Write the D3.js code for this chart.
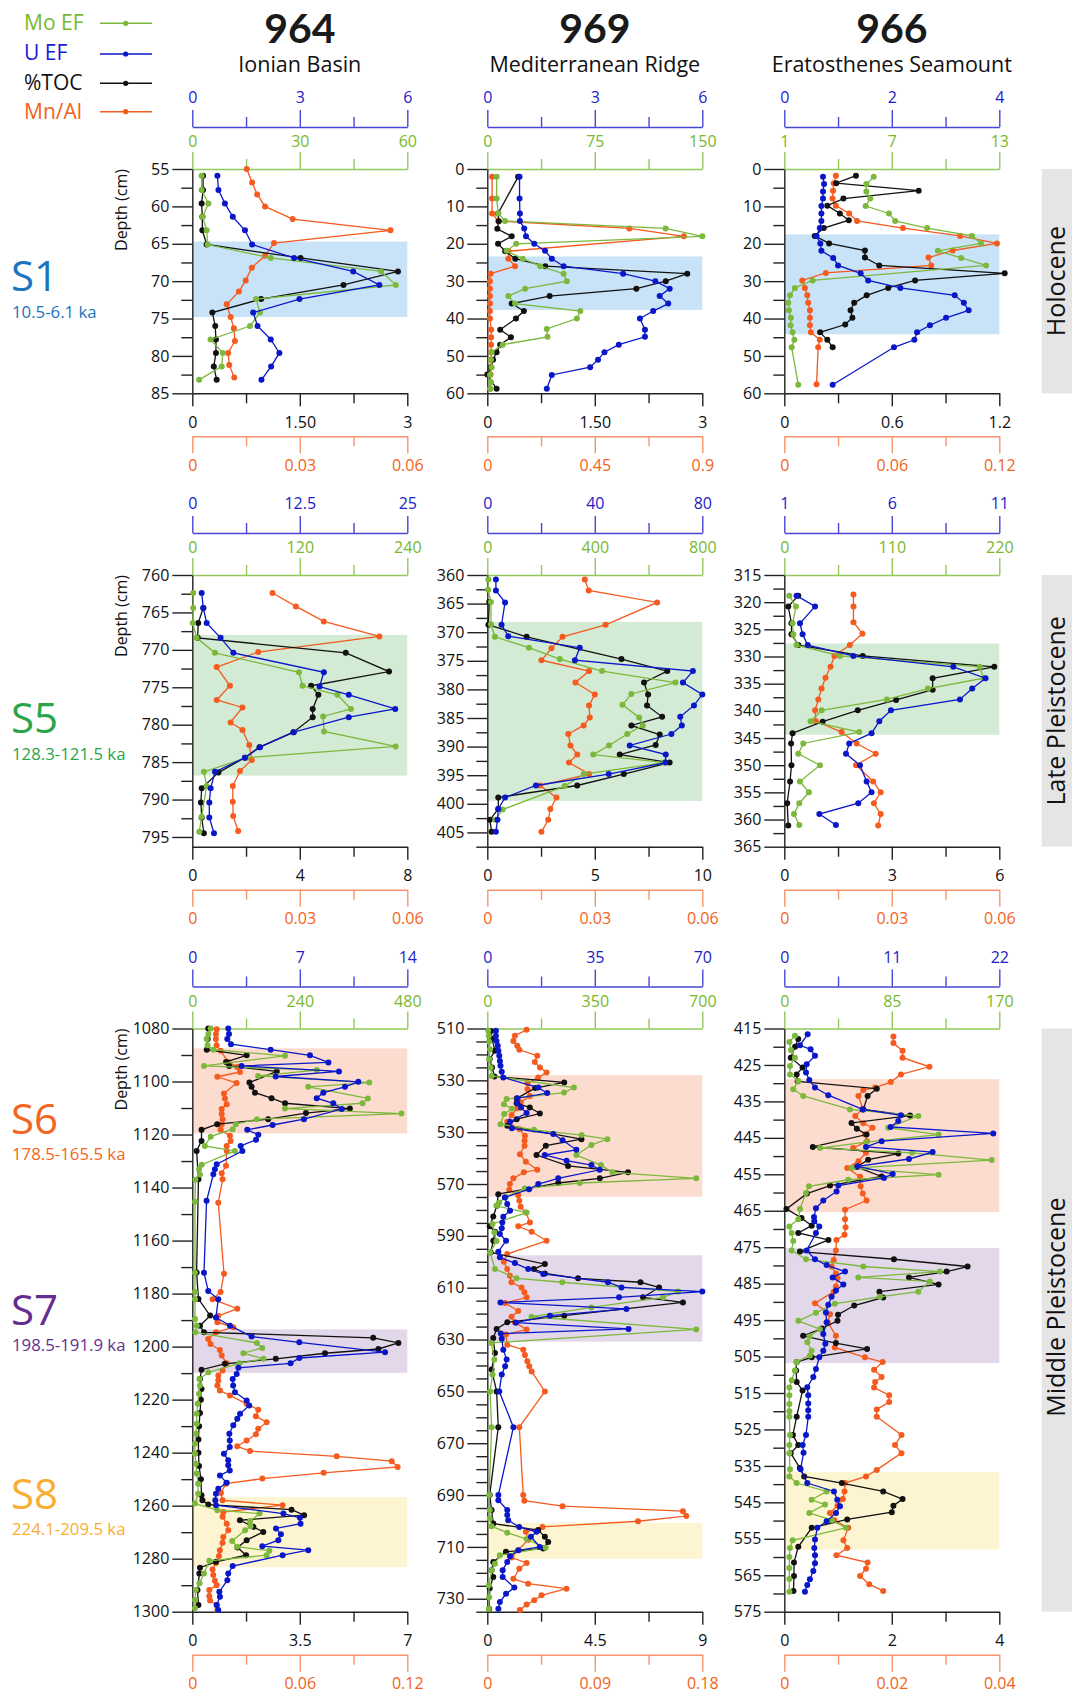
<!DOCTYPE html>
<html>
<head>
<meta charset="utf-8">
<script src="https://cdn.jsdelivr.net/npm/d3@7"></script>
<style>
body { margin: 0; background: #fff; }
svg { display: block; font-family: "Open Sans", sans-serif; }
</style>
</head>
<body>
<div id="chart"></div>
<script>
const sites = ["964", "969", "966"];
const siteNames = ["Ionian Basin", "Mediterranean Ridge", "Eratosthenes Seamount"];
const periods = ["Holocene", "Late Pleistocene", "Middle Pleistocene"];
const legendNames = ["Mo EF", "U EF", "%TOC", "Mn/Al"];

// events: name, age label
const eventNames = ["S1", "S5", "S6", "S7", "S8"];
const eventAges = ["10.5-6.1 ka", "128.3-121.5 ka", "178.5-165.5 ka", "198.5-191.9 ka", "224.1-209.5 ka"];

// panel order: 964, 969, 966 per row (Holocene, Late Pleist., Middle Pleist.)
const depthDomains = [[55, 85], [0, 60], [0, 60], [760, 796.3], [360, 407.5], [315, 365], [1080, 1300], [510, 735], [415, 575]];
const depthTicks = [
  [55, 60, 65, 70, 75, 80, 85],
  [0, 10, 20, 30, 40, 50, 60],
  [0, 10, 20, 30, 40, 50, 60],
  [760, 765, 770, 775, 780, 785, 790, 795],
  [360, 365, 370, 375, 380, 385, 390, 395, 400, 405],
  [315, 320, 325, 330, 335, 340, 345, 350, 355, 360, 365],
  [1080, 1100, 1120, 1140, 1160, 1180, 1200, 1220, 1240, 1260, 1280, 1300],
  [510, 530, 550, 570, 590, 610, 630, 650, 670, 690, 710, 730],
  [415, 425, 435, 445, 455, 465, 475, 485, 495, 505, 515, 525, 535, 545, 555, 565, 575]
];
const depthLabels969MP = ["510", "530", "530", "570", "590", "610", "630", "650", "670", "690", "710", "730"];
const depthMinorStep = [2.5, 5, 5, 2.5, 2.5, 2.5, 10, 5, 5];

const uDomains = [[0, 6], [0, 6], [0, 4], [0, 25], [0, 80], [1, 11], [0, 14], [0, 70], [0, 22]];
const moDomains = [[0, 60], [0, 150], [1, 13], [0, 240], [0, 800], [0, 220], [0, 480], [0, 700], [0, 170]];
const tocDomains = [[0, 3], [0, 3], [0, 1.2], [0, 8], [0, 10], [0, 6], [0, 7], [0, 9], [0, 4]];
const mnDomains = [[0, 0.06], [0, 0.9], [0, 0.12], [0, 0.06], [0, 0.06], [0, 0.06], [0, 0.12], [0, 0.18], [0, 0.04]];

const uLabels = [["0", "3", "6"], ["0", "3", "6"], ["0", "2", "4"], ["0", "12.5", "25"], ["0", "40", "80"], ["1", "6", "11"], ["0", "7", "14"], ["0", "35", "70"], ["0", "11", "22"]];
const moLabels = [["0", "30", "60"], ["0", "75", "150"], ["1", "7", "13"], ["0", "120", "240"], ["0", "400", "800"], ["0", "110", "220"], ["0", "240", "480"], ["0", "350", "700"], ["0", "85", "170"]];
const tocLabels = [["0", "1.50", "3"], ["0", "1.50", "3"], ["0", "0.6", "1.2"], ["0", "4", "8"], ["0", "5", "10"], ["0", "3", "6"], ["0", "3.5", "7"], ["0", "4.5", "9"], ["0", "2", "4"]];
const mnLabels = [["0", "0.03", "0.06"], ["0", "0.45", "0.9"], ["0", "0.06", "0.12"], ["0", "0.03", "0.06"], ["0", "0.03", "0.06"], ["0", "0.03", "0.06"], ["0", "0.06", "0.12"], ["0", "0.09", "0.18"], ["0", "0.02", "0.04"]];

// sapropel intervals [top, bottom, event index]
const bands = [
  [[64.7, 74.8, 0]], [[23.4, 37.7, 0]], [[17.5, 44.2, 0]],
  [[768.0, 786.8, 1]], [[368.2, 399.5, 1]], [[327.6, 344.4, 1]],
  [[1087.5, 1119.6, 2], [1193.5, 1209.9, 3], [1256.8, 1283.2, 4]],
  [[528, 574.9, 2], [597.5, 630.8, 3], [700.7, 714.6, 4]],
  [[428.9, 465.4, 2], [475.2, 506.8, 3], [536.7, 558, 4]]
];

// ---- data: [depth (cm), value] ----
const mo964Hol = [[55.9,2.6],[57.8,2.6],[59.6,4.5],[61.4,2.9],[63.2,4.0],[65.1,4.3],[66.9,21.9],[68.7,52.7],[70.5,56.8],[72.4,17.8],[74.2,18.9],[76.0,16.1],[77.8,5.1],[79.6,8.5],[81.4,8.2],[83.2,1.9]];
const u964Hol = [[55.9,0.70],[57.8,0.73],[59.6,0.91],[61.4,1.13],[63.2,1.47],[65.1,1.67],[66.9,2.84],[68.7,4.49],[70.5,5.22],[72.4,2.99],[74.2,1.70],[76.0,1.82],[77.8,2.19],[79.6,2.43],[81.4,2.20],[83.2,1.93]];
const toc964Hol = [[55.9,0.15],[57.8,0.15],[59.6,0.13],[61.4,0.14],[63.2,0.14],[65.1,0.2],[66.9,1.51],[68.7,2.87],[70.5,2.11],[72.4,0.96],[74.2,0.28],[76.0,0.32],[77.8,0.33],[79.6,0.33],[81.4,0.30],[83.2,0.34]];
const mn964Hol = [[55.0,0.0152],[56.8,0.0167],[58.4,0.0181],[60.0,0.0203],[61.7,0.0280],[63.2,0.0553],[64.9,0.0228],[66.6,0.0203],[68.2,0.0166],[69.9,0.0149],[71.4,0.0130],[73.1,0.0096],[74.8,0.0107],[76.3,0.0116],[78.0,0.0119],[79.6,0.0100],[81.2,0.0103],[82.9,0.0117]];

const mo969Hol = [[2.1,6.5],[7.9,6.5],[11.9,7.7],[13.9,12.4],[15.9,124.4],[18.0,150],[20.0,20.1],[21.9,13.5],[24.0,24.7],[26.0,36.9],[28.0,53.2],[30.0,55.5],[32.0,26.4],[34.0,14.7],[36.0,19.4],[38.0,64.9],[40.0,62.5],[42.8,41.5],[44.9,42],[47.0,10.7],[49.0,3.0],[51.0,2.6],[53.0,3.0],[55.1,1.9],[57.0,2.6],[58.8,2.3]];
const u969Hol = [[2.1,0.90],[7.9,0.90],[11.9,0.91],[13.9,0.91],[15.9,1.03],[18.0,1.08],[20.0,1.31],[21.9,1.61],[24.0,1.80],[26.0,2.13],[28.0,3.79],[30.0,4.69],[32.0,5.09],[34.0,4.81],[36.0,5.05],[38.0,4.63],[40.0,4.26],[43.0,4.40],[44.9,4.40],[47.0,3.67],[49.0,3.27],[51.0,3.09],[53.0,2.87],[55.1,1.80],[58.8,1.66]];
const toc969Hol = [[2.1,0.43],[11.9,0.15],[14.0,0.16],[16.0,0.14],[18.0,0.34],[20.0,0.15],[22.0,0.25],[24.0,0.39],[26.0,0.81],[28.0,2.79],[30.0,2.49],[32.0,2.08],[34.0,0.87],[36.0,0.34],[38.0,0.51],[40.0,0.40],[43.0,0.18],[45.0,0.33],[47.0,0.18],[49.0,0.13],[51.0,0.08],[53.0,0.05],[55.0,0.0],[58.8,0.13]];
const mn969Hol = [[2.1,0.02],[7.9,0.02],[11.9,0.02],[13.9,0.046],[15.9,0.595],[18.0,0.823],[22.0,0.088],[24.0,0.088],[26.0,0.116],[28.0,0.014],[30.0,0.011],[32.0,0.011],[34.0,0.011],[36.0,0.011],[38.0,0.011],[40.0,0.011],[43.0,0.016],[45.0,0.016],[47.0,0.016],[49.0,0.016],[51.0,0.014],[53.0,0.016],[55.0,0.014],[58.8,0.011]];

const mo966Hol = [[2.1,5.99],[4.0,5.58],[6.0,5.58],[7.9,5.80],[9.9,5.54],[11.9,6.84],[13.9,7.19],[15.8,8.97],[17.9,11.48],[19.9,11.98],[21.9,9.57],[23.8,10.87],[25.8,12.26],[29.8,2.58],[31.8,1.59],[33.8,1.32],[35.8,1.22],[37.8,1.26],[39.8,1.37],[41.8,1.35],[43.7,1.46],[45.7,1.56],[47.7,1.41],[57.7,1.78]];
const u966Hol = [[2.1,0.72],[4.0,0.74],[6.0,0.72],[7.9,0.72],[9.9,0.69],[11.9,0.69],[13.9,0.69],[15.8,0.66],[17.9,0.60],[19.9,0.67],[21.9,0.69],[23.8,0.91],[25.8,1.0],[27.9,1.42],[29.8,1.56],[31.8,2.16],[33.8,3.17],[35.8,3.34],[37.8,3.43],[39.8,3.01],[41.8,2.71],[43.7,2.47],[45.7,2.42],[47.7,2.04],[57.7,0.90]];
const toc966Hol = [[1.8,0.40],[3.8,0.29],[5.8,0.75],[7.9,0.33],[9.8,0.24],[11.9,0.31],[13.7,0.36],[15.8,0.22],[17.9,0.17],[19.9,0.25],[21.8,0.45],[23.7,0.45],[25.8,0.53],[27.9,1.23],[29.8,0.73],[31.8,0.58],[33.8,0.46],[35.8,0.39],[37.8,0.37],[39.8,0.38],[41.6,0.34],[43.7,0.20],[45.7,0.24],[47.7,0.27]];
const mn966Hol = [[1.8,0.0288],[3.8,0.0276],[5.8,0.0272],[7.9,0.0269],[9.8,0.0288],[11.9,0.0362],[13.9,0.0406],[15.8,0.0662],[17.9,0.0981],[19.9,0.1187],[21.8,0.0940],[23.7,0.0805],[25.8,0.0820],[27.8,0.0232],[29.8,0.0100],[31.8,0.0115],[33.8,0.0128],[35.8,0.0133],[37.8,0.0143],[39.8,0.0143],[41.8,0.0143],[43.7,0.0148],[45.7,0.0198],[47.7,0.0189],[57.6,0.0180]];

const mo964LP = [[762.4,1],[764.4,1],[766.4,0.5],[768.4,4.8],[770.4,25.3],[773.0,119],[774.8,123],[776.0,162],[777.9,177],[778.9,146],[780.9,147],[782.9,227],[784.4,60.7],[786.3,13.0],[788.2,16],[792.3,10.4],[794.3,7.8]];
const u964LP = [[762.4,1.09],[764.4,1.28],[766.4,1.67],[768.4,3.29],[770.4,4.77],[773.0,15.3],[774.9,14.8],[776.0,18.2],[777.9,23.6],[779.0,18.2],[781.0,11.8],[783.0,7.87],[784.4,6.12],[786.3,2.64],[788.5,2.13],[790.4,1.98],[792.4,1.98],[794.5,2.52]];
const toc964LP = [[764.4,0.41],[766.4,0.22],[768.4,0.2],[770.4,5.71],[772.9,7.32],[774.8,4.42],[776.0,4.69],[777.9,4.48],[779.0,4.48],[781.0,3.76],[783.0,2.5],[784.4,1.96],[786.4,0.97],[788.5,0.35],[790.4,0.32],[792.4,0.35],[794.5,0.43]];
const mn964LP = [[762.4,0.0224],[764.2,0.0289],[766.2,0.0367],[768.2,0.0522],[770.3,0.0184],[772.3,0.0068],[774.8,0.0105],[776.7,0.0068],[777.7,0.0140],[779.7,0.0107],[780.7,0.0140],[782.7,0.0159],[784.7,0.0166],[786.2,0.0133],[788.2,0.0113],[790.3,0.0113],[792.2,0.0114],[794.2,0.0128]];

const mo969LP = [[360.8,4],[362.6,3],[364.7,13.6],[368.6,13.6],[370.8,28.5],[372.7,155],[374.7,270],[376.8,427],[378.8,700],[380.8,536],[382.7,503],[384.9,565],[386.3,579],[387.8,521],[389.8,453],[391.4,394],[392.8,660],[394.8,359],[396.9,288],[401.0,57],[402.8,30]];
const u969LP = [[360.8,3.2],[362.7,3.2],[364.8,6.6],[368.7,5.3],[370.7,7.8],[372.7,34.4],[374.9,32.6],[376.8,76.5],[378.8,72.8],[380.9,80],[382.8,76.9],[384.8,71.8],[386.3,72.4],[387.8,68.5],[389.8,53.0],[391.4,66.4],[392.8,66.3],[394.8,45.2],[396.8,18.1],[398.9,6.6],[400.9,4.1],[402.8,3.8],[404.9,3.2]];
const toc969LP = [[364.7,0.09],[368.7,0.05],[370.8,1.83],[374.7,6.24],[376.8,8.37],[378.8,7.29],[380.9,7.48],[382.8,7.43],[384.8,8.13],[386.3,6.70],[387.9,8.02],[389.7,7.83],[391.4,6.16],[392.8,8.48],[394.8,6.35],[396.8,4.18],[398.9,0.51],[400.9,0.51],[402.8,0.12],[404.9,0.2]];
const mn969LP = [[360.8,0.0272],[362.7,0.0283],[364.8,0.0474],[368.7,0.0330],[370.8,0.0210],[372.8,0.0179],[374.9,0.0151],[376.8,0.0284],[378.8,0.0246],[380.9,0.0300],[382.8,0.0284],[384.9,0.0286],[386.3,0.0269],[387.8,0.0226],[389.8,0.0232],[391.4,0.0251],[392.8,0.0228],[394.8,0.0284],[396.8,0.0147],[398.9,0.0193],[400.9,0.0176],[402.8,0.0170],[404.9,0.0151]];

const mo966LP = [[318.8,5.1],[320.8,11.9],[323.9,8.5],[325.9,9.2],[327.9,12.6],[329.9,57.0],[331.9,200],[334.0,204],[335.9,147],[337.9,105],[339.9,38.2],[341.9,26.9],[343.9,76.7],[346.0,19.4],[347.9,14.3],[350.0,36.5],[353.0,16.0],[355.0,25.2],[357.0,15.3],[359.0,9.9],[361.0,15.3]];
const u966LP = [[318.8,1.57],[320.8,2.43],[323.9,1.73],[325.9,1.85],[327.9,2.09],[329.9,4.21],[331.9,8.86],[334.0,10.36],[335.9,9.74],[337.9,9.17],[339.9,5.96],[341.9,5.42],[344.1,5.06],[346.0,4.02],[347.9,3.87],[350.0,4.52],[353.0,4.83],[355.0,5.06],[357.0,4.44],[359.0,2.63],[361.0,3.40]];
const toc966LP = [[318.8,0.39],[320.8,0.11],[323.9,0.2],[325.9,0.2],[327.9,0.39],[329.9,2.19],[331.9,5.86],[334.0,4.14],[336.1,4.14],[338.0,3.12],[339.9,2.05],[342.0,1.07],[344.1,0.23],[346.0,0.19],[350.0,0.2],[353.0,0.16],[357.0,0.08],[361.1,0.11]];
const mn966LP = [[318.6,0.0193],[320.8,0.0193],[323.7,0.0193],[325.8,0.0218],[327.9,0.0183],[329.9,0.0140],[331.9,0.0129],[333.9,0.0115],[335.9,0.0104],[337.9,0.0095],[339.9,0.0086],[341.9,0.0088],[343.9,0.0160],[346.0,0.0202],[347.9,0.0255],[350.0,0.0200],[353.0,0.0248],[355.0,0.0269],[357.0,0.0250],[359.0,0.0269],[361.1,0.0262]];

const mo964MP = [[1080,41],[1082.1,36],[1084,32],[1086.3,34],[1088,47],[1090.3,207],[1094.1,26],[1095.7,278],[1097.9,147],[1100.4,395],[1102.0,259],[1106.4,392],[1108.2,380],[1110.2,207],[1112.1,467],[1114.2,144],[1116.1,97],[1118.0,90],[1120.8,41],[1124.3,28],[1126.2,95],[1131.4,21],[1133.1,15],[1135.1,17],[1137.1,7],[1145.4,6],[1172.1,6],[1179.4,6],[1182.1,6],[1189.6,6],[1192.1,10],[1194.6,7],[1198.6,144],[1200.5,156],[1202.5,114],[1204.6,159],[1206.3,105],[1209.7,36],[1212.2,16],[1214.7,17],[1217.8,15],[1221.6,12],[1225.3,10],[1229.1,10],[1232.9,8],[1236.6,6],[1240.4,6],[1244.2,8],[1247.9,10],[1251.7,13],[1255.5,13],[1259.2,6],[1261.7,56],[1263,150],[1265.9,129],[1267.8,130],[1269.3,118],[1273.3,89],[1275.5,100],[1277.0,172],[1278.7,166],[1280.8,38],[1285.6,26],[1289.3,16],[1291.8,8],[1295.6,6],[1298.7,6]];
const u964MP = [[1080,2.34],[1082.1,2.39],[1084,2.28],[1085.9,2.52],[1088,5.10],[1090.1,7.66],[1092.8,8.86],[1094.1,3.21],[1096.2,9.55],[1098.1,5.43],[1100.1,10.81],[1102.0,9.94],[1104.2,8.53],[1106.3,8.10],[1108.2,9.18],[1110.4,9.73],[1114.2,7.27],[1116.4,5.23],[1118.2,3.58],[1120.1,4.30],[1122.0,4.15],[1124.3,3.15],[1126.2,3.26],[1131.2,1.59],[1133.1,1.47],[1135.0,1.37],[1145.0,0.93],[1172.1,0.76],[1179.0,1.04],[1182.1,1.69],[1189,1.54],[1192.1,2.45],[1196.2,3.86],[1198.4,6.97],[1202.1,12.55],[1204.3,6.97],[1206.3,6.40],[1208.0,3.00],[1210.3,2.89],[1212.2,2.63],[1214.7,2.66],[1217.2,2.78],[1220.3,3.54],[1222.2,3.71],[1225.3,3.11],[1227.2,2.93],[1229.7,2.67],[1232.9,2.41],[1235.4,2.44],[1237.9,2.44],[1240.4,2.06],[1242.9,2.34],[1244.8,2.34],[1246.7,2.44],[1248.6,1.80],[1251.4,2.24],[1253.6,1.69],[1255.5,1.54],[1258,1.5],[1259.8,1.54],[1263.0,5.93],[1264.6,7.01],[1266.8,7.05],[1268.6,5.45],[1270.8,5.77],[1273.0,5.60],[1275.3,4.56],[1276.8,7.55],[1278.7,5.88],[1282.8,2.63],[1285.6,2.34],[1288.1,2.28],[1292.5,1.76],[1294.4,1.80],[1297.5,1.59],[1299.4,1.69]];
const toc964MP = [[1080,0.52],[1084,0.5],[1088,0.47],[1090.1,1.77],[1092.6,1.10],[1094.1,1.2],[1096.2,2.75],[1100.4,1.86],[1102.0,1.93],[1104.2,2.04],[1106.3,2.58],[1108.2,3.02],[1110.2,5.13],[1111.9,3.70],[1114.2,2.47],[1116.1,0.81],[1118.2,0.30],[1122.4,0.3],[1126.2,0.14],[1136.9,0.20],[1172,0.14],[1182,0.2],[1188.3,0.58],[1192.1,0.25],[1194.6,0.38],[1196.7,5.89],[1198.6,6.71],[1200.9,6.06],[1202.5,4.32],[1204.6,2.72],[1206.5,1.06],[1208.7,0.30],[1212.2,0.25],[1216,0.3],[1220,0.28],[1225,0.25],[1230,0.22],[1235,0.2],[1240,0.2],[1245,0.22],[1250,0.28],[1256.1,0.3],[1258,0.33],[1259.6,0.52],[1261.5,3.23],[1263.6,3.64],[1265.5,1.55],[1268,1.99],[1269.9,2.31],[1273.0,1.77],[1275.8,1.47],[1278.7,1.75],[1281.2,0.77],[1283.4,0.25],[1285.6,0.23],[1291.8,0.17],[1297.5,0.2]];
const mn964MP = [[1080.3,0.0136],[1082.1,0.0132],[1084,0.0132],[1086.3,0.0136],[1088.4,0.0158],[1092.6,0.0201],[1094.5,0.0251],[1096.4,0.0266],[1098.2,0.0140],[1100.6,0.0247],[1104.5,0.0177],[1106.4,0.0182],[1108.6,0.0192],[1110.4,0.0164],[1112.3,0.0164],[1114.2,0.0169],[1116.1,0.0164],[1118.2,0.0158],[1120.5,0.0210],[1122.4,0.0214],[1124.3,0.0192],[1126.2,0.0192],[1131.8,0.0188],[1134.6,0.0164],[1136.9,0.0169],[1145.7,0.0145],[1172.5,0.0177],[1179.4,0.0158],[1182.1,0.0113],[1185.7,0.0251],[1188.4,0.0145],[1190.8,0.0140],[1192.7,0.0229],[1194.6,0.0132],[1197.1,0.0089],[1199.0,0.0102],[1201.3,0.0154],[1203.4,0.0164],[1206.3,0.0192],[1209.0,0.0169],[1210.9,0.0145],[1212.8,0.0145],[1214.7,0.0140],[1216.6,0.0154],[1218.4,0.0210],[1221.6,0.0303],[1223.8,0.0368],[1226.3,0.0355],[1228.5,0.0415],[1231.0,0.0368],[1233.1,0.0355],[1235.4,0.0303],[1237.6,0.0251],[1239.4,0.0322],[1241.4,0.0806],[1243.2,0.1113],[1245.4,0.1146],[1247.6,0.0733],[1249.8,0.0391],[1251.7,0.0188],[1255.2,0.0160],[1258,0.0169],[1259.8,0.0504],[1262.4,0.0173],[1264.2,0.0169],[1266.8,0.0192],[1269.3,0.0201],[1271.8,0.0173],[1274.0,0.0169],[1276.8,0.0154],[1279.0,0.0149],[1281.6,0.0132],[1284.1,0.0113],[1286.2,0.0117],[1288.3,0.0126],[1290.0,0.0136],[1291.8,0.0095],[1294.1,0.0095],[1295.8,0.0099],[1297.5,0.0136],[1299.4,0.0140]];

const mo969MP = [[510.9,3],[512.8,5],[515,6],[518,9],[521.8,6],[525,11],[528.3,14],[532.8,282],[534.7,250],[537.2,63],[539.2,54],[541,80],[543,55],[546.9,43],[549.1,152],[551.1,307],[552.7,391],[554.9,339],[558.8,290],[562.7,370],[565.5,407],[567.8,680],[569.6,301],[571.7,122],[575,60],[577.1,39],[578.4,30],[581,128],[585.4,17],[588.7,23],[592,30],[596.4,9],[602.8,25],[606.4,95],[607.9,244],[611.5,621],[613.7,572],[617.6,339],[621.2,144],[626.1,680],[631.3,13],[637.7,23],[643.5,17],[650,9],[663.8,14],[690,6],[695.8,8],[699,8],[702,14],[704.5,65],[707,128],[710.3,190],[713.2,41],[716.5,25],[719,14],[724.8,5],[729.4,6],[734,5]];
const u969MP = [[510.9,2.8],[512.8,2.8],[514.8,3.0],[516.7,3.4],[518.6,3.6],[520.5,3.9],[522.5,4.1],[524.4,4.3],[526.7,4.7],[528.9,5.2],[532.8,16.6],[534.9,19.5],[536.9,9.8],[538.8,9.8],[540.5,11],[542.6,12.8],[546,7.4],[548.5,8],[550.7,21.5],[553.1,24.5],[556.8,29.0],[558.8,18.7],[561,25.8],[562.7,33.9],[564.5,36.6],[567.8,23.1],[570,16.6],[572,13.6],[575.2,5.7],[577.7,6.5],[580.3,7.4],[582.6,5.2],[584.8,4.9],[587.1,4.7],[589.3,4.1],[591.9,6.1],[596.1,3.6],[598.3,4.1],[600.5,9.0],[602.8,13.3],[604.7,18.2],[607.9,39.3],[609.9,43.7],[611.5,70],[613.7,42.9],[615.7,4.3],[618.2,45.3],[620.8,20.4],[623.5,9.3],[625.9,46.0],[627.7,4.4],[629.7,4.7],[633.9,5.2],[637.7,6.3],[640.3,5.8],[643.5,4.7],[650,3.9],[663.8,8.5],[690,3.6],[692,3.6],[695.8,6.5],[697.7,6.5],[699.7,6.8],[702.3,10.4],[704.2,16.0],[706.1,14.2],[710,17.1],[711.3,10.1],[713.6,7.4],[715.8,6.5],[719,5.0],[721.6,5.0],[725.7,8.8],[728.1,6.1],[731.3,4.1],[733.9,3.6]];
const toc969MP = [[511,0.15],[514,0.2],[518.6,0.32],[521.8,0.1],[525,0.2],[528.5,0.3],[530.8,3.22],[533,2.0],[537,1.23],[538.8,1.23],[540.5,1.78],[542.8,2.2],[545,1.23],[547.5,0.84],[552.7,3.94],[555.2,2.45],[558.8,2.06],[563,3.38],[565.5,5.89],[567.8,4.71],[569.6,2.97],[573.9,0.46],[578.4,0.4],[582.5,0.25],[586.3,0.1],[588.4,0.32],[591.9,0.25],[596.4,0.14],[600.9,2.41],[602.8,1.95],[604.5,2.41],[606.4,3.80],[607.9,6.41],[609.9,7.19],[613.7,6.52],[615.7,8.19],[620.8,3.22],[623.3,0.84],[625.9,0.39],[629.4,0.25],[635.2,0.32],[641.6,0.18],[650,0.39],[663.8,0.46],[690,0.1],[695.8,0.18],[701,0.25],[703.5,2.13],[706.1,2.41],[708.1,2.55],[710.6,2.34],[711.9,0.78],[715.8,0.25],[719,0.18],[721.6,0.25],[726,0.1],[734,0.08]];
const mn969MP = [[510.5,0.0329],[512.8,0.0231],[514.8,0.0218],[516.7,0.0251],[518.2,0.0268],[520.5,0.0418],[522.9,0.0398],[525,0.0441],[527,0.0496],[528.9,0.0426],[531.1,0.0337],[533.4,0.0337],[536,0.0357],[538.5,0.0279],[540.8,0.0251],[543.4,0.0203],[546,0.0167],[548.8,0.0268],[551.4,0.0315],[553.3,0.0312],[555.2,0.0312],[558.5,0.0273],[561.4,0.0323],[564.5,0.0418],[565.5,0.0306],[567.8,0.0218],[570,0.0189],[572.2,0.0184],[574.3,0.0259],[576.5,0.0268],[578.8,0.0279],[581,0.0323],[584.8,0.0357],[586.3,0.0259],[588.4,0.0371],[591.9,0.0496],[597,0.0167],[600,0.0139],[602.8,0.0167],[605.4,0.0189],[607.9,0.0203],[609.9,0.0287],[611.8,0.0310],[613.7,0.0329],[615.9,0.0148],[619,0.0259],[621.2,0.0203],[623.3,0.0231],[626.1,0.0329],[628.1,0.0156],[632,0.0167],[633.9,0.0301],[636,0.0315],[638.4,0.0335],[640.3,0.0351],[642.3,0.0371],[650,0.0482],[663.8,0.0268],[690,0.0301],[692.2,0.0310],[694.3,0.0630],[696.2,0.1638],[698.1,0.1666],[700.1,0.1262],[702.3,0.0462],[704.2,0.0323],[707.2,0.0342],[711.3,0.0259],[714.1,0.0203],[716.2,0.0329],[718.4,0.0268],[722.3,0.0218],[724.2,0.0342],[726.1,0.0663],[728.7,0.0454],[730.6,0.0393],[732.2,0.0329],[734.3,0.0273]];

const mo966MP = [[417,8.4],[418.7,4.0],[420.9,5.3],[423,8.4],[425.3,4.5],[427.6,4.5],[429.4,11.1],[431.7,7.1],[433.5,15.0],[437.2,51.9],[439,106],[442.2,82.2],[444.1,122],[446.2,64.6],[447.8,28.2],[449.1,101],[451.1,164],[453.3,53.2],[455.1,122],[456.5,50.6],[458.3,19.5],[460.1,17.1],[464.5,12.4],[467.3,11.1],[469.3,4.0],[471.1,5.8],[473.3,7.1],[475.9,5.8],[478.3,17.1],[480.3,62.5],[481.7,123],[483.3,58.5],[484.4,115],[487.2,106],[488.6,75.6],[490.5,40],[493,25],[495.2,11.1],[497.5,28.2],[499.5,20],[501.1,18.2],[503.4,21.6],[504.7,20.3],[506.5,9.7],[508.8,8.4],[511.5,5.8],[513.5,4.0],[515.6,4],[518,4],[520,4],[521.5,4],[526.5,4.5],[529.3,4.0],[531.5,4.0],[535.9,4.5],[537.9,4.0],[539.7,9.7],[542,33.5],[544.3,21.6],[545.6,32.2],[547.9,19.8],[549.9,37.4],[552,48.8],[555.4,6.6],[557.5,4.5],[560,4],[563,4],[566,4],[569.5,4]];
const u966MP = [[416.6,2.39],[419.6,1.60],[420.7,2.69],[422.5,3.14],[424.8,2.29],[427.1,2.22],[429.1,2.56],[431.2,3.14],[433.3,4.50],[437.2,8.02],[438.8,11.94],[440.4,11.66],[442,10.88],[443.8,21.38],[445.9,9.96],[447.5,8.36],[448.9,15.18],[450.8,12.76],[452.8,7.50],[454.9,11.09],[456,10.20],[458.1,5.53],[459.7,5.35],[462.2,3.99],[464.3,3.24],[466.7,3.04],[467.9,3.07],[469.3,3.58],[471.1,3.24],[475.9,2.29],[478.3,3.14],[479.9,4.33],[481.7,6.21],[483.3,4.95],[485.2,6.04],[486.9,5.29],[488.6,4.84],[490.8,4.5],[492.9,4.26],[495.6,4.33],[498.8,3.99],[501.5,4.2],[503.4,3.99],[505.2,3.58],[508.4,3.24],[510.6,2.97],[513.4,2.35],[515.6,2.45],[517.9,2.45],[519.7,2.45],[521.5,2.45],[526.5,2.22],[529.3,1.88],[531.4,1.97],[535.9,1.67],[539.7,2.35],[542,5.08],[544.3,5.42],[546.1,5.70],[547.9,5.29],[550.2,4.33],[552,3.38],[555.2,3.14],[557.5,3.07],[559.5,3.14],[561.7,3.14],[563.8,2.97],[566.1,2.62],[567.7,2.35],[569.5,2.11]];
const toc966MP = [[417.9,0.26],[420,0.2],[423,0.12],[425.7,0.34],[427.6,0.23],[429.5,0.25],[431.5,1.72],[433.5,1.55],[437.2,1.47],[438.9,2.34],[440.9,1.25],[442.5,1.35],[444.1,1.53],[447.5,0.53],[449.3,2.12],[451,1.56],[453,1.35],[455.6,1.81],[458.1,0.85],[460.3,0.42],[464.5,0.04],[467,0.32],[469.1,0.51],[471.1,0.26],[473,0.82],[476.2,0.29],[478.3,2.04],[480.3,3.41],[481.7,3.02],[483.3,2.32],[485.2,2.87],[487.2,1.77],[488.8,1.84],[491,1.3],[493.5,1.0],[495.2,0.99],[497.3,0.7],[499.3,0.35],[501.3,0.96],[502.9,1.54],[505.2,0.51],[506.5,0.23],[508.8,0.22],[512,0.23],[514.3,0.34],[521.5,0.23],[526.5,0.16],[529.3,0.26],[531.5,0.12],[535.6,0.29],[537.9,0.37],[539.7,1.07],[542,1.84],[544.1,2.20],[545.9,2.03],[547.7,2.00],[549.7,1.17],[552,0.51],[557.2,0.26],[561.5,0.18],[565.2,0.18],[569.3,0.17]];
const mn966MP = [[417.2,0.0203],[419,0.0203],[421.1,0.0220],[423,0.0220],[425.5,0.0270],[427.6,0.0217],[429.7,0.0198],[431.2,0.0169],[431.9,0.0147],[433.5,0.0138],[437,0.0146],[439,0.0132],[441,0.0147],[442.2,0.0164],[444.1,0.0150],[445.9,0.0154],[447.8,0.0128],[449.1,0.0152],[451.4,0.0138],[453.3,0.0117],[455.7,0.0141],[458.3,0.0142],[460.3,0.0146],[462.2,0.0153],[464.7,0.0113],[467.3,0.0113],[469.5,0.0114],[471.6,0.0112],[473,0.0097],[475.9,0.0096],[478.5,0.0092],[480.3,0.0088],[482.2,0.0096],[483.5,0.0099],[485.8,0.0096],[487.2,0.0092],[490.4,0.0057],[493.4,0.0085],[495.6,0.0081],[499.3,0.0096],[502.5,0.0094],[505.2,0.0150],[506.5,0.0183],[508.6,0.0167],[510.6,0.0181],[512,0.0169],[513.5,0.0167],[515.6,0.0195],[517.5,0.0195],[519.5,0.0172],[521.5,0.0172],[526.5,0.0218],[529.3,0.0206],[531.5,0.0218],[536.1,0.0172],[537.9,0.0152],[539.7,0.0113],[542,0.0112],[544.1,0.0109],[545.9,0.0099],[547.9,0.0085],[549.9,0.0093],[552,0.0119],[555.4,0.0110],[557.5,0.0117],[559.5,0.0097],[561.5,0.0155],[563.2,0.0152],[565.2,0.0141],[567.5,0.0158],[569.3,0.0184]];

const moSeries = [mo964Hol, mo969Hol, mo966Hol, mo964LP, mo969LP, mo966LP, mo964MP, mo969MP, mo966MP];
const uSeries = [u964Hol, u969Hol, u966Hol, u964LP, u969LP, u966LP, u964MP, u969MP, u966MP];
const tocSeries = [toc964Hol, toc969Hol, toc966Hol, toc964LP, toc969LP, toc966LP, toc964MP, toc969MP, toc966MP];
const mnSeries = [mn964Hol, mn969Hol, mn966Hol, mn964LP, mn969LP, mn966LP, mn964MP, mn969MP, mn966MP];

// ---- layout ----
const width = 1072, height = 1694;
const panelX = [192.3, 487.3, 784.3];
const plotW = 215;
const rowTop = [169, 575, 1028.5];
const rowBottom = [393.3, 846.7, 1611.7];

const colors = { mo: "#7cb83b", u: "#0a17c9", toc: "#111111", mn: "#f55a1e" };
const axisColors = {
  u: { line: "#4747d6", text: "#1c1cc8" },
  mo: { line: "#92c95a", text: "#78b82e" },
  toc: { line: "#222222", text: "#111111" },
  mn: { line: "#f7946c", text: "#f26322" }
};
const eventColors = ["#1c75bc", "#2aa549", "#f26522", "#662d91", "#fbad33"];
const bandColors = ["#c8e3f7", "#d3ead4", "#fddcd0", "#e3d8e9", "#fdf5d2"];
const eventLabelY = [[291, 318], [733, 760], [1134, 1160], [1325, 1351], [1509, 1535]];
const periodShift = [0, 0, -13];

const svg = d3.select("#chart")
  .append("svg")
  .attr("width", width)
  .attr("height", height);

// legend
const legendKeys = ["mo", "u", "toc", "mn"];
const legendTextColors = ["#78b82e", "#1a1ad6", "#111111", "#f26322"];
const legendTextY = [30, 60, 89.5, 119];
const legendLineY = [23.3, 54, 83.3, 111.7];
legendKeys.forEach((k, i) => {
  svg.append("text")
    .attr("x", 24).attr("y", legendTextY[i])
    .attr("font-size", 21)
    .attr("fill", legendTextColors[i])
    .text(legendNames[i]);
  svg.append("line")
    .attr("x1", 100).attr("x2", 152)
    .attr("y1", legendLineY[i]).attr("y2", legendLineY[i])
    .attr("stroke", colors[k]).attr("stroke-width", 1.4);
  svg.append("circle")
    .attr("cx", 125.7).attr("cy", legendLineY[i]).attr("r", 2.6)
    .attr("fill", colors[k]);
});

// site titles
sites.forEach((s, c) => {
  const cx = panelX[c] + plotW / 2;
  svg.append("text")
    .attr("x", cx).attr("y", 43)
    .attr("text-anchor", "middle")
    .attr("font-family", "Lato, sans-serif")
    .attr("font-size", 41).attr("font-weight", 700)
    .attr("fill", "#1a1a1a")
    .text(s);
  svg.append("text")
    .attr("x", cx).attr("y", 72)
    .attr("text-anchor", "middle")
    .attr("font-size", 21.5)
    .attr("fill", "#111")
    .text(siteNames[c]);
});

// period side boxes
periods.forEach((p, r) => {
  svg.append("rect")
    .attr("x", 1041.7).attr("y", rowTop[r])
    .attr("width", 40).attr("height", rowBottom[r] - rowTop[r])
    .attr("fill", "#e5e5e5");
  const cy = (rowTop[r] + rowBottom[r]) / 2 + periodShift[r];
  svg.append("text")
    .attr("transform", `translate(1054.5,${cy}) rotate(-90)`)
    .attr("text-anchor", "middle")
    .attr("dominant-baseline", "central")
    .attr("font-size", 25)
    .attr("fill", "#111")
    .text(p);
});

// event labels
eventNames.forEach((e, i) => {
  svg.append("text")
    .attr("x", 11).attr("y", eventLabelY[i][0])
    .attr("font-size", 42)
    .attr("fill", eventColors[i])
    .text(e);
  svg.append("text")
    .attr("x", 12).attr("y", eventLabelY[i][1])
    .attr("font-size", 16.8)
    .attr("fill", eventColors[i])
    .text(eventAges[i]);
});

function fiveTicks(dom) {
  return d3.range(5).map(k => dom[0] + k * (dom[1] - dom[0]) / 4);
}

function drawXAxis(g, scale, dom, labels, orient, y, col, majorLen, minorLen, pad) {
  const axisFn = orient === "top" ? d3.axisTop : d3.axisBottom;
  const axis = axisFn(scale)
    .tickValues(fiveTicks(dom))
    .tickSize(majorLen)
    .tickSizeOuter(0)
    .tickPadding(pad)
    .tickFormat((d, k) => k % 2 === 0 ? labels[k / 2] : "");
  g.attr("transform", `translate(0,${y})`).call(axis);
  g.attr("font-family", null).attr("font-size", null);
  g.select(".domain").attr("stroke", col.line).attr("stroke-width", 1.4);
  g.selectAll(".tick line")
    .attr("stroke", col.line).attr("stroke-width", 1.4)
    .filter((d, k) => k % 2 === 1)
    .attr("y2", orient === "top" ? -minorLen : minorLen);
  g.selectAll(".tick text").attr("fill", col.text).attr("font-size", 16);
}

for (let i = 0; i < 9; i++) {
  const r = Math.floor(i / 3), c = i % 3;
  const x0 = panelX[c], x1 = x0 + plotW;
  const top = rowTop[r], bottom = rowBottom[r];
  const panel = svg.append("g");

  const yScale = d3.scaleLinear().domain(depthDomains[i]).range([top, bottom]);
  const xU = d3.scaleLinear().domain(uDomains[i]).range([x0, x1]);
  const xMo = d3.scaleLinear().domain(moDomains[i]).range([x0, x1]);
  const xToc = d3.scaleLinear().domain(tocDomains[i]).range([x0, x1]);
  const xMn = d3.scaleLinear().domain(mnDomains[i]).range([x0, x1]);

  // sapropel bands
  panel.selectAll("rect.band")
    .data(bands[i])
    .enter()
    .append("rect")
    .attr("class", "band")
    .attr("x", x0)
    .attr("y", d => yScale(d[0]))
    .attr("width", plotW)
    .attr("height", d => yScale(d[1]) - yScale(d[0]))
    .attr("fill", d => bandColors[d[2]]);

  // x axes
  drawXAxis(panel.append("g"), xU, uDomains[i], uLabels[i], "top", top - 42, axisColors.u, 17, 10, 7);
  drawXAxis(panel.append("g"), xMo, moDomains[i], moLabels[i], "top", top, axisColors.mo, 17, 10, 5);
  drawXAxis(panel.append("g"), xToc, tocDomains[i], tocLabels[i], "bottom", bottom, axisColors.toc, 13, 10, 10);
  drawXAxis(panel.append("g"), xMn, mnDomains[i], mnLabels[i], "bottom", bottom + 43, axisColors.mn, 17, 10, 6);

  // depth axis
  const dom = depthDomains[i];
  const majors = depthTicks[i];
  const minors = d3.range(dom[0], dom[1] + 0.01, depthMinorStep[i]).filter(v => !majors.includes(v));
  const depthLabels = i === 7 ? depthLabels969MP : majors.map(String);

  const yMinorG = panel.append("g").attr("transform", `translate(${x0},0)`);
  yMinorG.call(d3.axisLeft(yScale).tickValues(minors).tickSize(11).tickSizeOuter(0).tickFormat(""));
  yMinorG.select(".domain").remove();
  yMinorG.selectAll(".tick line").attr("stroke", "#222").attr("stroke-width", 1.4);

  const yAxisG = panel.append("g").attr("transform", `translate(${x0},0)`);
  yAxisG.call(d3.axisLeft(yScale).tickValues(majors).tickSize(20).tickSizeOuter(0).tickPadding(3)
    .tickFormat((d, k) => depthLabels[k]));
  yAxisG.attr("font-family", null).attr("font-size", null);
  yAxisG.select(".domain").attr("stroke", "#222").attr("stroke-width", 1.4);
  yAxisG.selectAll(".tick line").attr("stroke", "#222").attr("stroke-width", 1.4);
  yAxisG.selectAll(".tick text").attr("fill", "#111").attr("font-size", 16);

  if (c === 0) {
    panel.append("text")
      .attr("transform", `translate(127,${top}) rotate(-90)`)
      .attr("text-anchor", "end")
      .attr("font-size", 16)
      .attr("fill", "#111")
      .text("Depth (cm)");
  }

  // profiles
  const layers = [
    { data: mnSeries[i], x: xMn, color: colors.mn },
    { data: tocSeries[i], x: xToc, color: colors.toc },
    { data: moSeries[i], x: xMo, color: colors.mo },
    { data: uSeries[i], x: xU, color: colors.u }
  ];
  layers.forEach(l => {
    const line = d3.line().x(d => l.x(d[1])).y(d => yScale(d[0]));
    panel.append("path")
      .datum(l.data)
      .attr("fill", "none")
      .attr("stroke", l.color)
      .attr("stroke-width", 1.3)
      .attr("d", line);
    panel.append("g")
      .selectAll("circle")
      .data(l.data)
      .enter()
      .append("circle")
      .attr("cx", d => l.x(d[1]))
      .attr("cy", d => yScale(d[0]))
      .attr("r", 3)
      .attr("fill", l.color);
  });
}
</script>
</body>
</html>
